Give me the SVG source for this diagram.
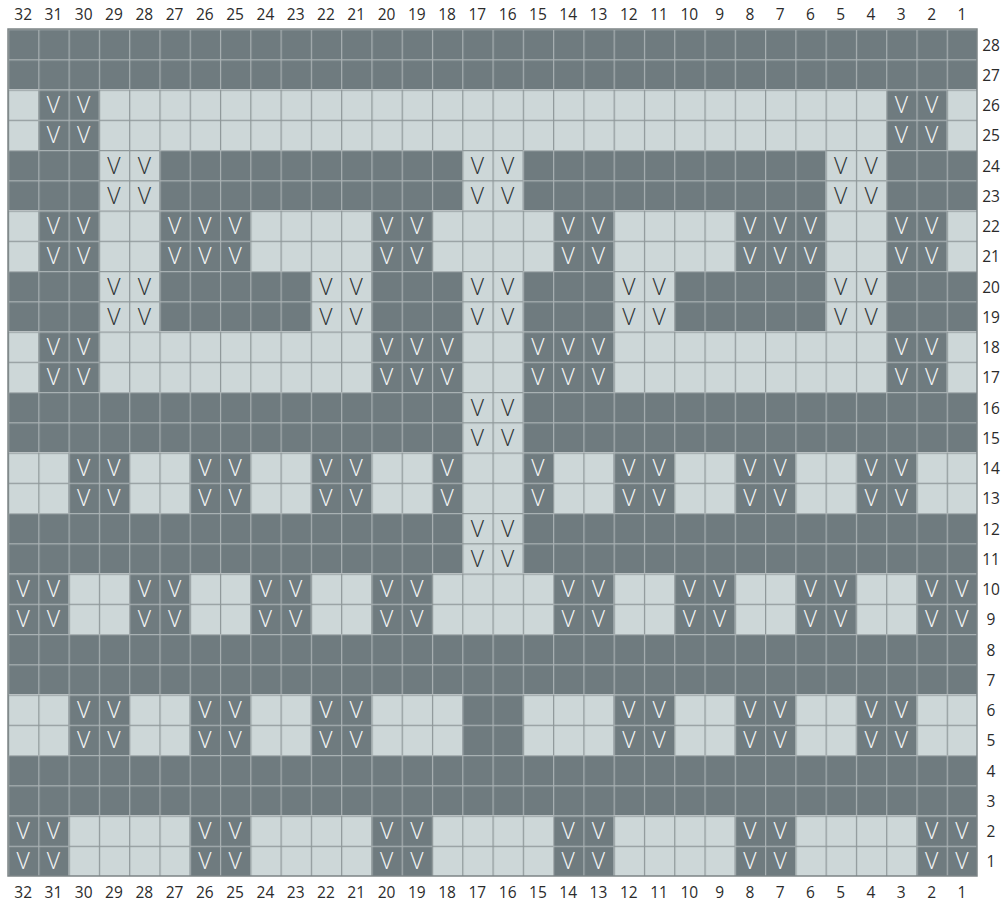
<svg xmlns="http://www.w3.org/2000/svg" width="1005" height="904" viewBox="0 0 1005 904">
<style>
.lb{font-family:"Open Sans","Noto Sans","Liberation Sans",sans-serif;font-size:15.5px;fill:#2b2b2b;text-anchor:middle}
.v text{font-family:"Open Sans","Noto Sans","Liberation Sans",sans-serif;font-size:23px;font-weight:300;text-anchor:middle}
.vw text{fill:#f4f6f6}
.vk text{fill:#2e3436}
.d{fill:url(#pD)}
.l{fill:url(#pL)}
</style>
<defs>
<pattern id="pD" patternUnits="userSpaceOnUse" x="8" y="29" width="30.28125" height="30.25">
<rect width="30.28125" height="30.25" fill="#6f7b7f"/>
<path d="M0.6 0V30.25M0 0.6H30.28125" stroke="#a9b1b3" stroke-width="1.2"/>
</pattern>
<pattern id="pL" patternUnits="userSpaceOnUse" x="8" y="29" width="30.28125" height="30.25">
<rect width="30.28125" height="30.25" fill="#cdd7d8"/>
<path d="M0.6 0V30.25M0 0.6H30.28125" stroke="#8e9799" stroke-width="1.2"/>
</pattern>
</defs>
<g id="grid">
<rect class="d" x="8" y="29" width="969" height="60.5"/>
<rect class="l" x="8" y="89.5" width="969" height="60.5"/>
<rect class="d" x="38.28" y="89.5" width="60.56" height="60.5"/>
<rect class="d" x="886.16" y="89.5" width="60.56" height="60.5"/>
<rect class="d" x="8" y="150" width="969" height="60.5"/>
<rect class="l" x="98.84" y="150" width="60.56" height="60.5"/>
<rect class="l" x="462.22" y="150" width="60.56" height="60.5"/>
<rect class="l" x="825.59" y="150" width="60.56" height="60.5"/>
<rect class="l" x="8" y="210.5" width="969" height="60.5"/>
<rect class="d" x="38.28" y="210.5" width="60.56" height="60.5"/>
<rect class="d" x="159.41" y="210.5" width="90.84" height="60.5"/>
<rect class="d" x="371.38" y="210.5" width="60.56" height="60.5"/>
<rect class="d" x="553.06" y="210.5" width="60.56" height="60.5"/>
<rect class="d" x="734.75" y="210.5" width="90.84" height="60.5"/>
<rect class="d" x="886.16" y="210.5" width="60.56" height="60.5"/>
<rect class="d" x="8" y="271" width="969" height="60.5"/>
<rect class="l" x="98.84" y="271" width="60.56" height="60.5"/>
<rect class="l" x="310.81" y="271" width="60.56" height="60.5"/>
<rect class="l" x="462.22" y="271" width="60.56" height="60.5"/>
<rect class="l" x="613.63" y="271" width="60.56" height="60.5"/>
<rect class="l" x="825.59" y="271" width="60.56" height="60.5"/>
<rect class="l" x="8" y="331.5" width="969" height="60.5"/>
<rect class="d" x="38.28" y="331.5" width="60.56" height="60.5"/>
<rect class="d" x="371.38" y="331.5" width="90.84" height="60.5"/>
<rect class="d" x="522.78" y="331.5" width="90.84" height="60.5"/>
<rect class="d" x="886.16" y="331.5" width="60.56" height="60.5"/>
<rect class="d" x="8" y="392" width="969" height="60.5"/>
<rect class="l" x="462.22" y="392" width="60.56" height="60.5"/>
<rect class="l" x="8" y="452.5" width="969" height="60.5"/>
<rect class="d" x="68.56" y="452.5" width="60.56" height="60.5"/>
<rect class="d" x="189.69" y="452.5" width="60.56" height="60.5"/>
<rect class="d" x="310.81" y="452.5" width="60.56" height="60.5"/>
<rect class="d" x="431.94" y="452.5" width="30.28" height="60.5"/>
<rect class="d" x="522.78" y="452.5" width="30.28" height="60.5"/>
<rect class="d" x="613.63" y="452.5" width="60.56" height="60.5"/>
<rect class="d" x="734.75" y="452.5" width="60.56" height="60.5"/>
<rect class="d" x="855.88" y="452.5" width="60.56" height="60.5"/>
<rect class="d" x="8" y="513" width="969" height="60.5"/>
<rect class="l" x="462.22" y="513" width="60.56" height="60.5"/>
<rect class="l" x="8" y="573.5" width="969" height="60.5"/>
<rect class="d" x="8" y="573.5" width="60.56" height="60.5"/>
<rect class="d" x="129.13" y="573.5" width="60.56" height="60.5"/>
<rect class="d" x="250.25" y="573.5" width="60.56" height="60.5"/>
<rect class="d" x="371.38" y="573.5" width="60.56" height="60.5"/>
<rect class="d" x="553.06" y="573.5" width="60.56" height="60.5"/>
<rect class="d" x="674.19" y="573.5" width="60.56" height="60.5"/>
<rect class="d" x="795.31" y="573.5" width="60.56" height="60.5"/>
<rect class="d" x="916.44" y="573.5" width="60.56" height="60.5"/>
<rect class="d" x="8" y="634" width="969" height="60.5"/>
<rect class="l" x="8" y="694.5" width="969" height="60.5"/>
<rect class="d" x="68.56" y="694.5" width="60.56" height="60.5"/>
<rect class="d" x="189.69" y="694.5" width="60.56" height="60.5"/>
<rect class="d" x="310.81" y="694.5" width="60.56" height="60.5"/>
<rect class="d" x="462.22" y="694.5" width="60.56" height="60.5"/>
<rect class="d" x="613.63" y="694.5" width="60.56" height="60.5"/>
<rect class="d" x="734.75" y="694.5" width="60.56" height="60.5"/>
<rect class="d" x="855.88" y="694.5" width="60.56" height="60.5"/>
<rect class="d" x="8" y="755" width="969" height="60.5"/>
<rect class="l" x="8" y="815.5" width="969" height="60.5"/>
<rect class="d" x="8" y="815.5" width="60.56" height="60.5"/>
<rect class="d" x="189.69" y="815.5" width="60.56" height="60.5"/>
<rect class="d" x="371.38" y="815.5" width="60.56" height="60.5"/>
<rect class="d" x="553.06" y="815.5" width="60.56" height="60.5"/>
<rect class="d" x="734.75" y="815.5" width="60.56" height="60.5"/>
<rect class="d" x="916.44" y="815.5" width="60.56" height="60.5"/>
<rect x="8" y="29" width="969" height="847" fill="none" stroke="#7d8587" stroke-width="1.5"/>
</g>
<g id="symbols" class="v">
<g class="vw" transform="translate(0,113.13)"><text x="53.42">V</text><text x="83.70">V</text><text x="901.30">V</text><text x="931.58">V</text></g>
<g class="vw" transform="translate(0,143.38)"><text x="53.42">V</text><text x="83.70">V</text><text x="901.30">V</text><text x="931.58">V</text></g>
<g class="vk" transform="translate(0,173.63)"><text x="113.98">V</text><text x="144.27">V</text><text x="477.36">V</text><text x="507.64">V</text><text x="840.73">V</text><text x="871.02">V</text></g>
<g class="vk" transform="translate(0,203.88)"><text x="113.98">V</text><text x="144.27">V</text><text x="477.36">V</text><text x="507.64">V</text><text x="840.73">V</text><text x="871.02">V</text></g>
<g class="vw" transform="translate(0,234.13)"><text x="53.42">V</text><text x="83.70">V</text><text x="174.55">V</text><text x="204.83">V</text><text x="235.11">V</text><text x="386.52">V</text><text x="416.80">V</text><text x="568.20">V</text><text x="598.48">V</text><text x="749.89">V</text><text x="780.17">V</text><text x="810.45">V</text><text x="901.30">V</text><text x="931.58">V</text></g>
<g class="vw" transform="translate(0,264.38)"><text x="53.42">V</text><text x="83.70">V</text><text x="174.55">V</text><text x="204.83">V</text><text x="235.11">V</text><text x="386.52">V</text><text x="416.80">V</text><text x="568.20">V</text><text x="598.48">V</text><text x="749.89">V</text><text x="780.17">V</text><text x="810.45">V</text><text x="901.30">V</text><text x="931.58">V</text></g>
<g class="vk" transform="translate(0,294.63)"><text x="113.98">V</text><text x="144.27">V</text><text x="325.95">V</text><text x="356.23">V</text><text x="477.36">V</text><text x="507.64">V</text><text x="628.77">V</text><text x="659.05">V</text><text x="840.73">V</text><text x="871.02">V</text></g>
<g class="vk" transform="translate(0,324.88)"><text x="113.98">V</text><text x="144.27">V</text><text x="325.95">V</text><text x="356.23">V</text><text x="477.36">V</text><text x="507.64">V</text><text x="628.77">V</text><text x="659.05">V</text><text x="840.73">V</text><text x="871.02">V</text></g>
<g class="vw" transform="translate(0,355.13)"><text x="53.42">V</text><text x="83.70">V</text><text x="386.52">V</text><text x="416.80">V</text><text x="447.08">V</text><text x="537.92">V</text><text x="568.20">V</text><text x="598.48">V</text><text x="901.30">V</text><text x="931.58">V</text></g>
<g class="vw" transform="translate(0,385.38)"><text x="53.42">V</text><text x="83.70">V</text><text x="386.52">V</text><text x="416.80">V</text><text x="447.08">V</text><text x="537.92">V</text><text x="568.20">V</text><text x="598.48">V</text><text x="901.30">V</text><text x="931.58">V</text></g>
<g class="vk" transform="translate(0,415.63)"><text x="477.36">V</text><text x="507.64">V</text></g>
<g class="vk" transform="translate(0,445.88)"><text x="477.36">V</text><text x="507.64">V</text></g>
<g class="vw" transform="translate(0,476.13)"><text x="83.70">V</text><text x="113.98">V</text><text x="204.83">V</text><text x="235.11">V</text><text x="325.95">V</text><text x="356.23">V</text><text x="447.08">V</text><text x="537.92">V</text><text x="628.77">V</text><text x="659.05">V</text><text x="749.89">V</text><text x="780.17">V</text><text x="871.02">V</text><text x="901.30">V</text></g>
<g class="vw" transform="translate(0,506.38)"><text x="83.70">V</text><text x="113.98">V</text><text x="204.83">V</text><text x="235.11">V</text><text x="325.95">V</text><text x="356.23">V</text><text x="447.08">V</text><text x="537.92">V</text><text x="628.77">V</text><text x="659.05">V</text><text x="749.89">V</text><text x="780.17">V</text><text x="871.02">V</text><text x="901.30">V</text></g>
<g class="vk" transform="translate(0,536.63)"><text x="477.36">V</text><text x="507.64">V</text></g>
<g class="vk" transform="translate(0,566.88)"><text x="477.36">V</text><text x="507.64">V</text></g>
<g class="vw" transform="translate(0,597.13)"><text x="23.14">V</text><text x="53.42">V</text><text x="144.27">V</text><text x="174.55">V</text><text x="265.39">V</text><text x="295.67">V</text><text x="386.52">V</text><text x="416.80">V</text><text x="568.20">V</text><text x="598.48">V</text><text x="689.33">V</text><text x="719.61">V</text><text x="810.45">V</text><text x="840.73">V</text><text x="931.58">V</text><text x="961.86">V</text></g>
<g class="vw" transform="translate(0,627.38)"><text x="23.14">V</text><text x="53.42">V</text><text x="144.27">V</text><text x="174.55">V</text><text x="265.39">V</text><text x="295.67">V</text><text x="386.52">V</text><text x="416.80">V</text><text x="568.20">V</text><text x="598.48">V</text><text x="689.33">V</text><text x="719.61">V</text><text x="810.45">V</text><text x="840.73">V</text><text x="931.58">V</text><text x="961.86">V</text></g>
<g class="vw" transform="translate(0,718.13)"><text x="83.70">V</text><text x="113.98">V</text><text x="204.83">V</text><text x="235.11">V</text><text x="325.95">V</text><text x="356.23">V</text><text x="628.77">V</text><text x="659.05">V</text><text x="749.89">V</text><text x="780.17">V</text><text x="871.02">V</text><text x="901.30">V</text></g>
<g class="vw" transform="translate(0,748.38)"><text x="83.70">V</text><text x="113.98">V</text><text x="204.83">V</text><text x="235.11">V</text><text x="325.95">V</text><text x="356.23">V</text><text x="628.77">V</text><text x="659.05">V</text><text x="749.89">V</text><text x="780.17">V</text><text x="871.02">V</text><text x="901.30">V</text></g>
<g class="vw" transform="translate(0,839.13)"><text x="23.14">V</text><text x="53.42">V</text><text x="204.83">V</text><text x="235.11">V</text><text x="386.52">V</text><text x="416.80">V</text><text x="568.20">V</text><text x="598.48">V</text><text x="749.89">V</text><text x="780.17">V</text><text x="931.58">V</text><text x="961.86">V</text></g>
<g class="vw" transform="translate(0,869.38)"><text x="23.14">V</text><text x="53.42">V</text><text x="204.83">V</text><text x="235.11">V</text><text x="386.52">V</text><text x="416.80">V</text><text x="568.20">V</text><text x="598.48">V</text><text x="749.89">V</text><text x="780.17">V</text><text x="931.58">V</text><text x="961.86">V</text></g>
</g>
<g id="column-labels-top" class="lb" transform="translate(0,20)">
<text x="23.14">32</text><text x="53.42">31</text><text x="83.70">30</text><text x="113.98">29</text><text x="144.27">28</text><text x="174.55">27</text><text x="204.83">26</text><text x="235.11">25</text><text x="265.39">24</text><text x="295.67">23</text><text x="325.95">22</text><text x="356.23">21</text><text x="386.52">20</text><text x="416.80">19</text><text x="447.08">18</text><text x="477.36">17</text><text x="507.64">16</text><text x="537.92">15</text><text x="568.20">14</text><text x="598.48">13</text><text x="628.77">12</text><text x="659.05">11</text><text x="689.33">10</text><text x="719.61">9</text><text x="749.89">8</text><text x="780.17">7</text><text x="810.45">6</text><text x="840.73">5</text><text x="871.02">4</text><text x="901.30">3</text><text x="931.58">2</text><text x="961.86">1</text>
</g>
<g id="column-labels-bottom" class="lb" transform="translate(0,898)">
<text x="23.14">32</text><text x="53.42">31</text><text x="83.70">30</text><text x="113.98">29</text><text x="144.27">28</text><text x="174.55">27</text><text x="204.83">26</text><text x="235.11">25</text><text x="265.39">24</text><text x="295.67">23</text><text x="325.95">22</text><text x="356.23">21</text><text x="386.52">20</text><text x="416.80">19</text><text x="447.08">18</text><text x="477.36">17</text><text x="507.64">16</text><text x="537.92">15</text><text x="568.20">14</text><text x="598.48">13</text><text x="628.77">12</text><text x="659.05">11</text><text x="689.33">10</text><text x="719.61">9</text><text x="749.89">8</text><text x="780.17">7</text><text x="810.45">6</text><text x="840.73">5</text><text x="871.02">4</text><text x="901.30">3</text><text x="931.58">2</text><text x="961.86">1</text>
</g>
<g id="row-labels" class="lb">
<text x="991" y="50.63">28</text><text x="991" y="80.88">27</text><text x="991" y="111.13">26</text><text x="991" y="141.38">25</text><text x="991" y="171.63">24</text><text x="991" y="201.88">23</text><text x="991" y="232.13">22</text><text x="991" y="262.38">21</text><text x="991" y="292.63">20</text><text x="991" y="322.88">19</text><text x="991" y="353.13">18</text><text x="991" y="383.38">17</text><text x="991" y="413.63">16</text><text x="991" y="443.88">15</text><text x="991" y="474.13">14</text><text x="991" y="504.38">13</text><text x="991" y="534.63">12</text><text x="991" y="564.88">11</text><text x="991" y="595.13">10</text><text x="991" y="625.38">9</text><text x="991" y="655.63">8</text><text x="991" y="685.88">7</text><text x="991" y="716.13">6</text><text x="991" y="746.38">5</text><text x="991" y="776.63">4</text><text x="991" y="806.88">3</text><text x="991" y="837.13">2</text><text x="991" y="867.38">1</text>
</g>
</svg>
